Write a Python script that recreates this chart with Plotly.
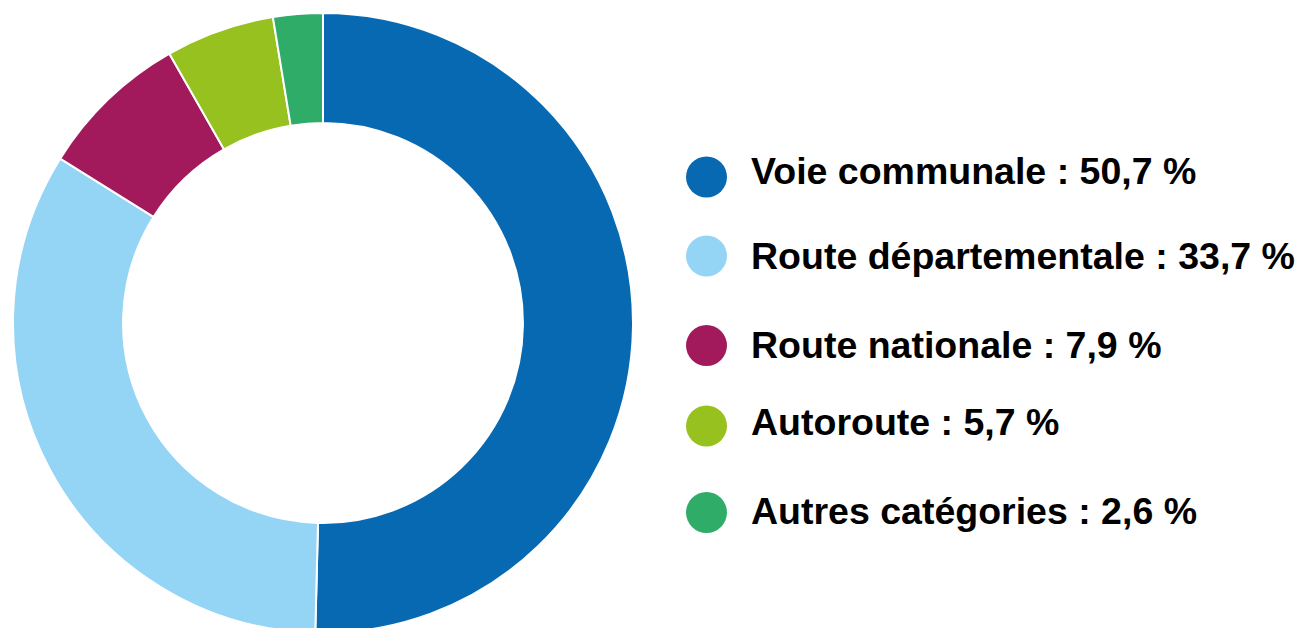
import plotly.graph_objects as go

categories = ["Voie communale", "Route départementale", "Route nationale", "Autoroute", "Autres catégories"]
values = [50.7, 33.7, 7.9, 5.7, 2.6]
colors = ["#0769B1", "#94D4F5", "#A31A5C", "#97C11F", "#2FAC67"]

W, H = 1312, 628
OFF = 8  # page body margin offset
legend_x = 706.5 - OFF
legend_text_x = 749 - OFF
marker_y = [y - OFF for y in [177, 256, 345.5, 426, 512.5]]
text_y = [y - OFF for y in [170.7, 255.5, 344.7, 422, 510.5]]

def fmt(v):
    return f"{v:.1f}".replace(".", ",") + " %"

labels_txt = [f"{c} : {fmt(v)}" for c, v in zip(categories, values)]

fig = go.Figure()
fig.add_trace(go.Pie(
    labels=categories,
    values=values,
    marker=dict(colors=colors, line=dict(color="white", width=2)),
    hole=0.645,
    sort=False,
    direction="clockwise",
    rotation=0,
    textinfo="none",
    hoverinfo="label+percent",
    showlegend=False,
    domain=dict(x=[5 / W, 625 / W], y=[3 / H, 623 / H]),
))

fig.add_trace(go.Scatter(
    x=[legend_x] * len(categories),
    y=marker_y,
    mode="markers",
    marker=dict(size=41, color=colors, symbol="circle", line=dict(width=0)),
    showlegend=False,
    hoverinfo="skip",
))

for txt, y in zip(labels_txt, text_y):
    fig.add_annotation(
        x=legend_text_x, y=y, xref="x", yref="y",
        text=txt, showarrow=False, xanchor="left", yanchor="middle",
        font=dict(family="Liberation Sans, Arial, sans-serif", size=37.5, color="#000000", weight="bold"),
    )

fig.update_layout(
    width=W, height=H,
    margin=dict(l=0, r=0, t=0, b=0),
    paper_bgcolor="white", plot_bgcolor="rgba(0,0,0,0)",
    xaxis=dict(range=[0, W], domain=[0, 1], visible=False, fixedrange=True),
    yaxis=dict(range=[H, 0], domain=[0, 1], visible=False, fixedrange=True),
)

fig.write_html("out.html")
